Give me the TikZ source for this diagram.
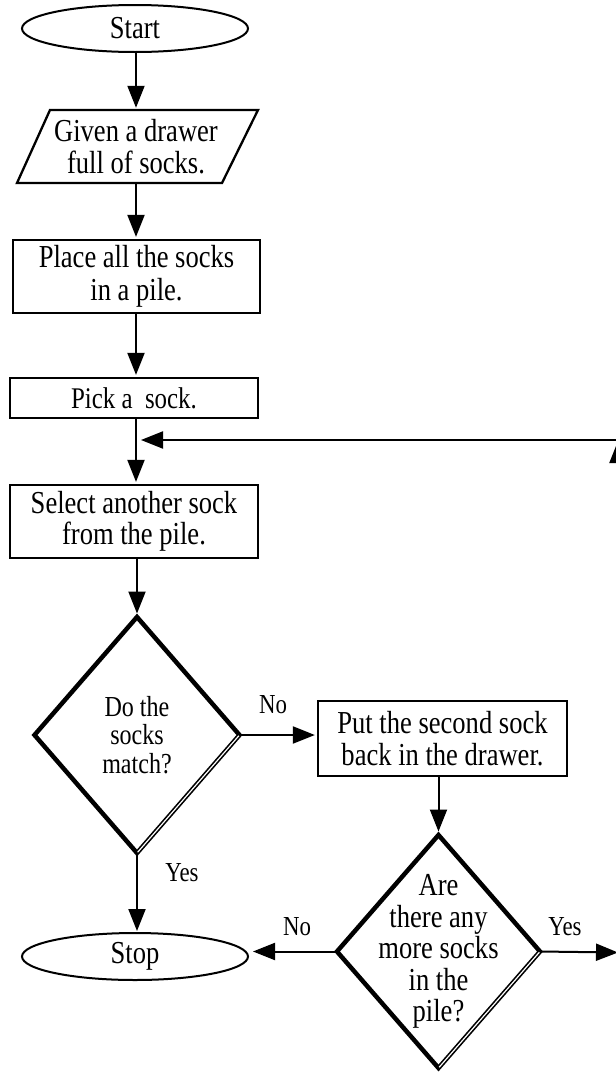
\documentclass[tikz,border=0pt]{standalone}
\usepackage{fontspec}
\setmainfont{Liberation Serif}[FakeStretch=0.83]
\usetikzlibrary{shapes.geometric,arrows.meta}
\begin{document}
\begin{tikzpicture}[x=1pt,y=-1pt,
  txt/.style={font=\fontsize{32}{31.5}\selectfont, align=center},
  box/.style={draw, line width=2.3pt, rectangle, inner sep=0pt, txt},
  term/.style={draw, line width=2pt, ellipse, minimum width=226pt, minimum height=47pt, inner sep=0pt, txt},
  dec/.style={draw, line width=4.5pt, diamond, inner sep=0pt, outer sep=0pt},
  dectxt/.style={align=center, inner sep=0pt},
  conn/.style={line width=2pt, -{Triangle[length=22pt,width=17pt]}, shorten >=2pt},
  dbl/.style={white, line width=1.2pt, shorten <=1pt, shorten >=1pt},
  lbl/.style={font=\fontsize{27.5}{30}\selectfont, inner sep=0pt}]
\useasboundingbox (0,0) rectangle (616,1074);
\coordinate (c) at (136,0);
% nodes
\node[term] (start) at (135,28.5) {Start};
\node[txt, minimum width=200pt, minimum height=73pt, inner sep=0pt] (given) at (136,146.5) {Given a drawer\\full of socks.};
\draw[line width=2.3pt] (50,110) -- (258,110) -- (222,183) -- (17,183) -- cycle;
\node[box, minimum width=247pt, minimum height=73pt, font=\fontsize{32}{33}\selectfont] (place) at (136.5,276.5) {Place all the socks\\in a pile.};
\node[box, minimum width=248pt, minimum height=40pt, font=\fontsize{30}{31}\selectfont] (pick) at (134,398) {Pick a\ \ sock.};
\node[box, minimum width=248pt, minimum height=73pt, font=\fontsize{32}{30.5}\selectfont] (select) at (134,521.5) {Select another sock\\from the pile.};
\node[dec, minimum width=205pt, minimum height=236pt] (d1) at (137,735) {};
\node[dectxt, font=\fontsize{29}{28.5}\selectfont] (d1t) at (d1.center) {Do the\\socks\\match?};
\node[box, minimum width=249pt, minimum height=75pt, font=\fontsize{32}{32}\selectfont] (put) at (442.5,738.5) {Put the second sock\\back in the drawer.};
\node[dec, minimum width=203pt, minimum height=233pt] (d2) at (438.5,951.5) {};
\node[dectxt, font=\fontsize{32}{31.5}\selectfont] (d2t) at (d2.center) {Are\\there any\\more socks\\in the\\pile?};
\node[term] (stop) at (135,956.5) {Stop};
% double edges on diamonds
\draw[dbl] (d1.east) -- (d1.south);
\draw[dbl] (d2.east) -- (d2.south);
% coordinates for loop
\coordinate (fb) at (136,440);
\coordinate (r1) at (618,952.5);
\coordinate (r2) at (618,440);
% connectors
\draw[conn] (start.south -| c) -- (given.north -| c);
\draw[conn] (given.south -| c) -- (place.north -| c);
\draw[conn] (place.south -| c) -- (pick.north -| c);
\draw[conn] (pick.south -| c) -- (select.north -| c);
\draw[conn, shorten >=3.5pt] (select.south -| d1.north) -- (d1.north);
\draw[conn] (d1.east) -- (d1.east -| put.west);
\node[lbl] (no1) at (273,705) {No};
\draw[conn, shorten >=1pt] (d1.south) -- (d1.south |- stop.north);
\node[lbl] (yes1) at (182,873) {Yes};
\draw[conn, shorten >=3.5pt] (d2.north |- put.south) -- (d2.north);
\draw[conn, shorten >=4pt] (d2.west) -- (d2.west -| stop.east);
\node[lbl] (no2) at (297,927) {No};
\draw[conn, shorten >=0pt] (d2.east) -- (r1);
\node[lbl] (yes2) at (565,927) {Yes};
\draw[conn, shorten >=1pt] (r1) -- (r2);
\draw[conn, shorten >=5pt] (r2) -- (fb);
\end{tikzpicture}
\end{document}
